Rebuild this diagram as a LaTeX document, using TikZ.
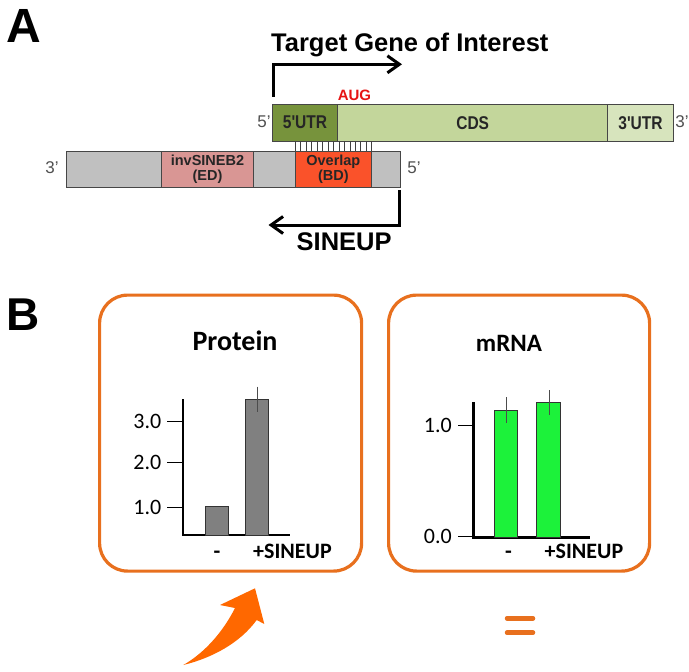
\documentclass[tikz,border=0pt]{standalone}
\usepackage{fontspec}
\setmainfont{Liberation Sans}
\newfontfamily\narrowf[FakeStretch=0.84]{Liberation Sans}
\newfontfamily\carl{Carlito}
\usetikzlibrary{arrows.meta}
\definecolor{utrdark}{RGB}{119,147,60}
\definecolor{cdsgreen}{RGB}{195,214,155}
\definecolor{utrlight}{RGB}{215,228,189}
\definecolor{graybar}{RGB}{192,192,192}
\definecolor{pinkbar}{RGB}{217,150,148}
\definecolor{overlapred}{RGB}{250,82,42}
\definecolor{segline}{RGB}{70,70,70}
\definecolor{boxorange}{RGB}{232,112,30}
\definecolor{arroworange}{RGB}{255,104,0}
\definecolor{bargreen}{RGB}{28,242,58}
\definecolor{bargray}{RGB}{128,128,128}
\definecolor{primelabel}{RGB}{80,80,80}
\definecolor{augred}{RGB}{230,20,20}
\newcommand{\fs}[1]{\fontsize{#1}{#1}\selectfont}
\tikzset{
  seg/.style={draw=segline, line width=0.9pt, anchor=north west, inner sep=0pt, outer sep=0pt, text=black!85},
  upperlbl/.style={font=\narrowf\bfseries\fs{18.5}},
  lowerlbl/.style={font=\bfseries\fs{14.5}, align=center},
  prime/.style={font=\fs{17}, text=primelabel, inner sep=0pt},
  biglbl/.style={font=\bfseries\fs{48}, inner sep=0pt, anchor=north west},
  pathway/.style={line width=3pt, line join=miter, -{Straight Barb[length=12pt,width=17pt,line width=3pt]}},
  panel/.style={draw=boxorange, line width=3.2pt, rounded corners=28pt},
  axis/.style={line width=2.4pt, line cap=rect},
  tick/.style={line width=1pt},
  ticklbl/.style={font=\carl\fs{22}, anchor=east, inner sep=0pt},
  errbar/.style={line width=0.9pt, draw=black!70},
  catlbl/.style={font=\carl\bfseries\fs{22}, inner sep=0pt, anchor=base},
  ptitle/.style={font=\carl\bfseries\fs{28}, inner sep=0pt, anchor=base},
}
\begin{document}
\begin{tikzpicture}[x=1pt,y=-1pt]
\useasboundingbox (0,0) rectangle (689,672);
% ---------- Panel A ----------
\node[biglbl] (labA) at (6,9) {A};
\node[font=\bfseries\fs{25.5}, anchor=base west, inner sep=0pt] (tgt) at (271,51) {Target Gene of Interest};
% upper bar
\node[seg, fill=utrdark, minimum width=65.4pt, minimum height=36.7pt, upperlbl] (utr5) at (272.3,104.3) {5'UTR};
\node[seg, fill=cdsgreen, minimum width=270pt, minimum height=36.7pt, upperlbl] (cds) at (337.7,104.3) {CDS};
\node[seg, fill=utrlight, minimum width=65.6pt, minimum height=36.7pt, upperlbl] (utr3) at (607.7,104.3) {3'UTR};
\node[prime] (p5u) at (264,122) {5'};
\node[prime] (p3u) at (682,122) {3'};
\node[font=\bfseries\fs{15}, text=augred, inner sep=0pt, anchor=base] (aug) at (354.5,100) {AUG};
% lower bar
\node[seg, fill=graybar, minimum width=95pt, minimum height=36.3pt] (g1) at (66.7,151) {};
\node[seg, fill=pinkbar, minimum width=91.6pt, minimum height=36.3pt, lowerlbl] (inv) at (161.7,151) {invSINEB2\\[0pt](ED)};
\node[seg, fill=graybar, minimum width=41.7pt, minimum height=36.3pt] (g2) at (253.3,151) {};
\node[seg, fill=overlapred, minimum width=76.7pt, minimum height=36.3pt, lowerlbl] (ovl) at (295,151) {Overlap\\[0pt](BD)};
\node[seg, fill=graybar, minimum width=29pt, minimum height=36.3pt] (g3) at (371.7,151) {};
\node[prime] (p3l) at (52,168) {3'};
\node[prime] (p5l) at (414,168) {5'};
% hatching (base pairing)
\foreach \i in {0,...,14}{
  \draw[line width=0.6pt, draw=black!75] (295+\i*5.48,141) -- (295+\i*5.48,151);
}
% transcription arrows
\coordinate (tgtstart) at (273.3,96.5);
\coordinate (tgtbend) at (273.3,64.3);
\coordinate (tgtend) at (402,64.3);
\draw[pathway] (tgtstart) -- (tgtbend) -- (tgtend);
\coordinate (snstart) at (399,190);
\coordinate (snbend) at (399,225);
\coordinate (snend) at (268.5,225);
\draw[pathway] (snstart) -- (snbend) -- (snend);
\node[font=\bfseries\fs{25.5}, inner sep=0pt, anchor=base] (sineup) at (344.2,250) {SINEUP};
% ---------- Panel B ----------
\node[biglbl, font=\bfseries\fs{46}] (labB) at (6,299) {B};
\node[panel, minimum width=262pt, minimum height=276pt, anchor=north west, inner sep=0pt] (protbox) at (98,293.5) {};
\node[panel, minimum width=261pt, minimum height=276pt, anchor=north west, inner sep=0pt] (mrnabox) at (387,293.5) {};
% Protein chart
\node[ptitle] (ptitle) at (235,350) {Protein};
\coordinate (pya) at (182.7,400);
\coordinate (porig) at (182.7,535);
\coordinate (pxa) at (289,535);
\draw[axis] (pya) -- (porig) -- (pxa);
\foreach \v/\yy in {1.0/507, 2.0/462.5, 3.0/421}{
  \draw[tick] (167,\yy) -- (182.7,\yy);
  \node[ticklbl] at (161.5,\yy) {\v};
}
\draw[fill=bargray, draw=black!80, line width=0.9pt] (205.7,535) rectangle (228.7,506.7);
\draw[fill=bargray, draw=black!80, line width=0.9pt] (245.7,535) rectangle (268.3,399.3);
\draw[errbar] (257.7,386.7) -- (257.7,411.7);
\node[catlbl] (pminus) at (217,558) {-};
\node[catlbl] (pplus) at (292.5,558) {+SINEUP};
% mRNA chart
\node[ptitle, font=\carl\bfseries\fs{25}] (mtitle) at (509,351) {mRNA};
\coordinate (mya) at (473.3,402.7);
\coordinate (morig) at (473.3,537.5);
\coordinate (mxa) at (588.3,537.5);
\draw[axis] (mya) -- (morig) -- (mxa);
\foreach \v/\yy in {1.0/425.7, 0.0/536}{
  \draw[tick] (458,\yy) -- (473.3,\yy);
  \node[ticklbl] at (452,\yy) {\v};
}
\draw[fill=bargreen, draw=black!80, line width=0.9pt] (494.3,537.5) rectangle (517.7,410);
\draw[fill=bargreen, draw=black!80, line width=0.9pt] (536.7,537.5) rectangle (560,402.3);
\draw[errbar] (506.3,397) -- (506.3,422.7);
\draw[errbar] (549.7,390) -- (549.7,415);
\node[catlbl] (mminus) at (508.5,558) {-};
\node[catlbl] (mplus) at (584,558) {+SINEUP};
% orange up arrow
\fill[arroworange] (183.3,665)
  .. controls (212,658) and (240,643) .. (256.7,620)
  -- (264.3,624) -- (255,588.3) -- (220,605) -- (235,608)
  .. controls (224,630) and (206,652) .. (183.3,665) -- cycle;
% equals sign
\draw[draw=boxorange, line width=4.5pt, line cap=round] (507,618.3) -- (533,618.3);
\draw[draw=boxorange, line width=4.5pt, line cap=round] (507,632.7) -- (533,632.7);
\end{tikzpicture}
\end{document}
